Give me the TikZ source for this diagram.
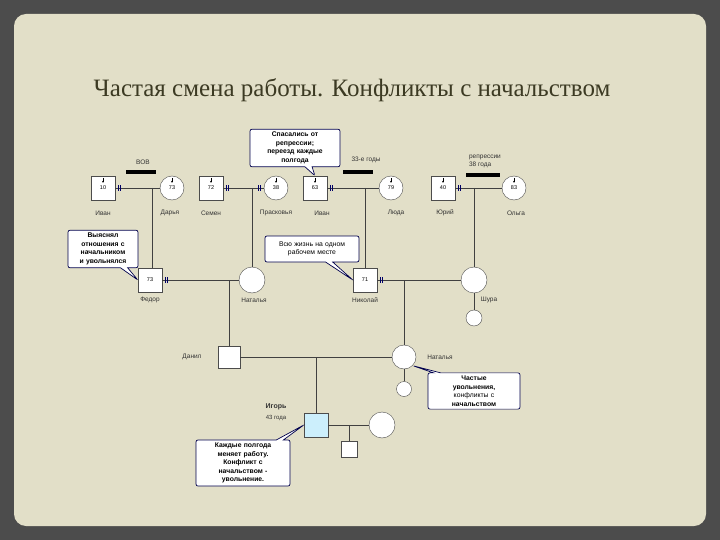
\documentclass[tikz,border=0pt]{standalone}
\usepackage{fontspec}
\setmainfont{Liberation Sans}
\newfontfamily\titlefont{Liberation Serif}
\usetikzlibrary{shapes.callouts,arrows.meta}
\begin{document}
\begin{tikzpicture}[x=1pt,y=-1pt,
  m/.style={draw=black!70,fill=white,minimum size=24pt,inner sep=0pt,font=\fontsize{5.5}{6}\selectfont},
  f/.style={draw=black!70,fill=white,circle,minimum size=24pt,inner sep=0pt,font=\fontsize{5.5}{6}\selectfont},
  lbl/.style={font=\fontsize{6.5}{7}\selectfont,text=black!80},
  ln/.style={draw=black!75,line width=0.7pt},
  co/.style={rectangle callout,draw=blue!30!black,fill=white,rounded corners=2pt,line width=0.7pt,
    align=center,font=\bfseries\fontsize{6.8}{8.5}\selectfont,inner sep=3pt},
  bar/.style={fill=black,minimum width=30pt,minimum height=4pt,inner sep=0pt}]
\useasboundingbox (0,0) rectangle (720,540);
\fill[black!70] (0,0) rectangle (720,540);
\fill[rounded corners=12pt,fill={rgb,255:red,226;green,223;blue,200}] (14,14) rectangle (706,526);
\node[font=\titlefont\fontsize{25}{27}\selectfont,text={rgb,255:red,60;green,58;blue,35}] (title) at (352,90) {Частая смена работы. Конфликты с начальством};
% row 1
\node[m] (ivan) at (103,188) {10};
\node[f] (darya) at (172,188) {73};
\node[m] (semen) at (211,188) {72};
\node[f] (prask) at (276,188) {38};
\node[m] (ivan2) at (315,188) {63};
\node[f] (lyuda) at (391,188) {79};
\node[m] (yuri) at (443,188) {40};
\node[f] (olga) at (514,188) {83};
\foreach \n in {ivan,darya,semen,prask,ivan2,lyuda,yuri,olga}{
  \draw[-{Stealth[length=2pt,width=2pt]},line width=0.4pt] ([yshift=-2pt]\n.north) -- ([yshift=-7pt]\n.north);}
\node[lbl] (l1) at (103,213) {Иван};
\node[lbl] (l2) at (170,213) {Дарья};
\node[lbl] (l3) at (211,213) {Семен};
\node[lbl] (l4) at (276,213) {Прасковья};
\node[lbl] (l5) at (322,213) {Иван};
\node[lbl] (l6) at (396,213) {Люда};
\node[lbl] (l7) at (445,213) {Юрий};
\node[lbl] (l8) at (516,213) {Ольга};
% row 2
\node[m] (fedor) at (150,280) {73};
\node[f,minimum size=26pt] (nat) at (252,280) {};
\node[m] (nik) at (365,280) {71};
\node[f,minimum size=26pt] (shura) at (474,280) {};
\node[f,minimum size=16pt] (shc) at (474,318) {};
\node[lbl] (l9) at (150,300) {Федор};
\node[lbl] (l10) at (254,300) {Наталья};
\node[lbl] (l11) at (365,300) {Николай};
\node[lbl] (l12) at (489,300) {Шура};
% row 3
\node[m,minimum size=22pt] (danil) at (229,357) {};
\node[f] (nat2) at (404,357) {};
\node[f,minimum size=15pt] (nc) at (404,389) {};
\node[lbl] (l13) at (192,357) {Данил};
\node[lbl] (l14) at (440,357) {Наталья};
% row 4
\node[m,fill=cyan!20] (igor) at (316,425) {};
\node[f,minimum size=26pt] (wife) at (382,425) {};
\node[m,minimum size=16pt] (ic) at (349,449) {};
\node[lbl,font=\bfseries\fontsize{7}{8}\selectfont] (l15) at (276,407) {Игорь};
\node[lbl,font=\fontsize{6}{7}\selectfont] (l16) at (276,418) {43 года};
% marriage lines
\draw[ln] (ivan) -- (darya);
\draw[ln] (semen) -- (prask);
\draw[ln] (ivan2) -- (lyuda);
\draw[ln] (yuri) -- (olga);
\draw[ln] (fedor) -- (nat);
\draw[ln] (nik) -- (shura);
\draw[ln] (danil) -- (nat2);
\draw[ln] (igor) -- (wife);
\draw[ln] (shura) -- (shc);
\draw[ln] (nat2) -- (nc);
% descent lines
\coordinate (d1) at (152,188); \draw[ln] (d1) -- (fedor.north -| d1);
\coordinate (d2) at (252,188); \draw[ln] (d2) -- (nat.north);
\coordinate (d3) at (365,188); \draw[ln] (d3) -- (nik.north);
\coordinate (d4) at (474,188); \draw[ln] (d4) -- (shura.north);
\coordinate (d5) at (229,280); \draw[ln] (d5) -- (danil.north);
\coordinate (d6) at (404,280); \draw[ln] (d6) -- (nat2.north);
\coordinate (d7) at (316,357); \draw[ln] (d7) -- (igor.north);
\coordinate (d8) at (349,425); \draw[ln] (d8) -- (ic.north);
% double ticks
\foreach \n in {ivan,semen,ivan2,yuri,fedor,nik}{
  \draw[blue!40!black,line width=0.6pt] ([xshift=3pt,yshift=-3pt]\n.east) -- ++(0,6pt) ([xshift=5pt,yshift=-3pt]\n.east) -- ++(0,6pt);}
\draw[blue!40!black,line width=0.6pt] ([xshift=-4pt,yshift=-3pt]prask.west) -- ++(0,6pt) ([xshift=-6pt,yshift=-3pt]prask.west) -- ++(0,6pt);
% bars
\node[lbl] (vov) at (143,162) {ВОВ};
\node[bar] (b1) at (141,172) {};
\node[lbl] (y33) at (366,160) {33-е годы};
\node[bar] (b2) at (358,172) {};
\node[lbl,align=left,font=\fontsize{6.5}{8}\selectfont] (rep) at (485,161) {репрессии\\38 года};
\node[bar,minimum width=34pt] (b3) at (483,175) {};
% callouts
\node[co,callout absolute pointer={(ivan2.north)},text width=84pt] (c1) at (295,148) {Спасались от\\репрессии;\\переезд каждые\\полгода};
\node[co,callout absolute pointer={(fedor.west)},text width=64pt] (c2) at (103,249) {Выяснял\\отношения с\\начальником\\и увольнялся};
\node[co,callout absolute pointer={(nik.west)},text width=88pt,minimum height=26pt,font=\fontsize{6.8}{8.5}\selectfont] (c3) at (312,249) {Всю жизнь на одном\\рабочем месте};
\node[co,callout absolute pointer={(nat2.south east)},text width=86pt] (c4) at (474,391) {Частые\\увольнения,\\{\mdseries конфликты с}\\начальством};
\node[co,callout absolute pointer={(igor.west)},text width=88pt] (c5) at (243,463) {Каждые полгода\\меняет работу.\\Конфликт с\\начальством -\\увольнение.};
\end{tikzpicture}
\end{document}
